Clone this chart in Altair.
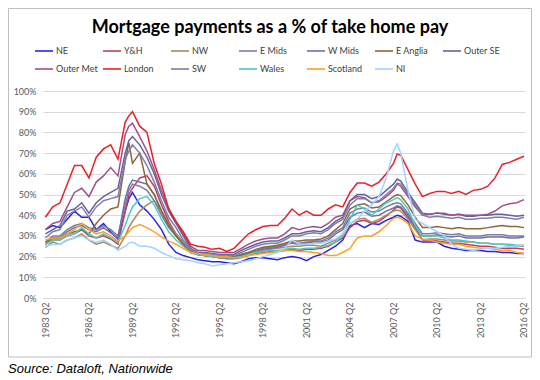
import altair as alt
import pandas as pd

TITLE = "Mortgage payments as a % of take home pay"
SOURCE = "Source: Dataloft, Nationwide"

# time points (decimal year: .0=Q1, .25=Q2, .5=Q3, .75=Q4)
TIMES = [1983.25, 1983.75, 1984.25, 1984.75, 1985.25, 1985.75, 1986.25, 1986.75, 1987.25, 1987.75, 1988.25, 1988.75,
         1989.0, 1989.25, 1989.75, 1990.25, 1990.75, 1991.25, 1991.75, 1992.25, 1992.75, 1993.25, 1993.75,
         1994.25, 1994.75, 1995.25, 1995.75, 1996.25, 1996.75, 1997.25, 1997.75, 1998.25, 1998.75, 1999.25, 1999.75,
         2000.25, 2000.75, 2001.25, 2001.75, 2002.25, 2002.75, 2003.25, 2003.75, 2004.25, 2004.75, 2005.25, 2005.75,
         2006.25, 2006.75, 2007.25, 2007.5, 2007.75, 2008.25, 2008.75, 2009.25, 2009.75,
         2010.25, 2010.75, 2011.25, 2011.75, 2012.25, 2012.75, 2013.25, 2013.75, 2014.25, 2014.75, 2015.25, 2015.75, 2016.25]

TICK_YEARS = [1983.25, 1986.25, 1989.25, 1992.25, 1995.25, 1998.25, 2001.25, 2004.25, 2007.25, 2010.25, 2013.25, 2016.25]
Y_TICKS = [0, 10, 20, 30, 40, 50, 60, 70, 80, 90, 100]

NE = [33, 35, 34, 38, 42, 39, 39, 33, 36, 32, 28.5, 42,
      48, 51, 45, 42, 38, 33, 26, 22, 20.5, 19.5, 18.5,
      18, 17.5, 17.5, 17, 16.5, 17.5, 19, 19.5, 19.5, 19, 18.5, 19.5,
      20, 19.5, 18, 20, 21, 23, 25, 28, 35, 36, 34, 36,
      35.5, 37.5, 39, 40, 39.5, 37, 28, 27, 27,
      27, 25, 24, 23.5, 23, 23, 23, 22.5, 22.5, 22, 22, 21.5, 21.5]
YH = [26, 28, 28, 30, 31, 33, 30, 29, 30, 28.5, 26, 42,
      50, 53, 58, 59, 54, 45, 37, 31, 26.5, 22, 21,
      20.5, 20, 19.5, 19, 19, 19.5, 20.5, 21.5, 22, 22.5, 22.5, 23,
      23.5, 23, 23.5, 23.5, 24, 25, 27, 29, 34, 37, 37.5, 36,
      37, 39.5, 42.5, 44, 43.5, 39, 34, 28, 28,
      27.5, 27, 26.5, 26.5, 26, 25.5, 25, 25, 24.5, 24, 24, 24, 23.5]
NW = [24.5, 27, 26, 28, 29, 31, 28, 26, 27, 25.5, 24, 30,
      34, 37, 42, 45, 47, 42, 36, 31, 27, 23, 21,
      20.5, 20, 19.5, 19.5, 19.5, 20, 21, 22, 23, 23.5, 24, 24.5,
      25, 25, 25.5, 25.5, 25, 26.5, 28, 31, 36, 38, 38.5, 36.5,
      38, 40, 42, 42.5, 42, 38, 33, 28, 28.5,
      28.5, 28, 27.5, 27.5, 27, 27, 26.5, 26.5, 26, 26, 25.5, 25, 25]
E_MIDS = [27, 30, 30, 33, 35, 36, 34, 33, 35, 33, 30, 45,
          52, 55, 54, 52, 47, 40, 34, 30, 26, 22.5, 21.5,
          21, 20.5, 20, 20, 20, 21, 22, 23, 24, 24.5, 25, 26,
          27, 26.5, 27, 27.5, 27.5, 29, 32, 34, 41, 43, 43.5, 41.5,
          42, 44, 45.5, 46, 45.5, 41, 36, 31, 31,
          31.5, 31, 30.5, 31, 30, 30, 30, 30.5, 30.5, 30.5, 30, 30, 30]
W_MIDS = [26, 29, 29, 32, 34, 35, 33, 32, 34, 31.5, 29, 48,
          54, 57, 56, 55, 50, 42, 35, 30, 26, 22, 21,
          20.5, 20, 19.5, 19.5, 19.5, 20.5, 21.5, 22.5, 23.5, 24, 24.5, 25.5,
          26.5, 26, 26.5, 27, 27, 28, 31, 33, 39, 41, 41.5, 39.5,
          40, 42, 43.5, 44.5, 44, 40, 35, 30, 30,
          30.5, 30, 29.5, 30, 29, 29, 29, 29.5, 29.5, 29.5, 29, 29, 29.5]
E_ANGLIA = [27, 29, 29, 31, 32, 33, 31, 36, 40, 43, 44, 66,
            75, 65, 70, 55, 50, 42, 35, 30, 26, 22, 21,
            20.5, 20.5, 20, 20, 20, 21, 22, 23.5, 24.5, 25, 25.5, 26.5,
            27.5, 27.5, 28, 28, 28.5, 30, 33, 36, 43, 45, 45.5, 43.5,
            44, 46.5, 49, 50, 49.5, 45, 39, 34, 34,
            34.5, 34, 33.5, 34, 33.5, 33.5, 33.5, 34, 34.5, 35, 34.5, 34.5, 34]
OUTER_SE = [31, 33, 35, 42, 43, 46, 41, 46, 49, 51, 53, 70,
            76, 78, 74, 68, 60, 50, 42, 36, 30, 24, 22,
            22, 21.5, 21, 21, 21, 23, 24.5, 26, 27, 27.5, 27.5, 29,
            31, 31, 32, 32.5, 32, 34, 37, 39, 47, 50, 50, 48,
            49, 52, 55, 57.5, 56.5, 51, 46, 41, 40.5,
            41, 40.5, 40, 40.5, 39.5, 39.5, 40, 40, 40.5, 40.5, 40, 39.5, 40]
OUTER_MET = [33, 36, 37, 44, 51, 53, 49, 56, 59, 63, 59, 79,
             83, 84.5, 78, 71, 62, 52, 43, 37, 31, 25, 23,
             23, 22.5, 22, 22, 22, 24, 26, 27.5, 28.5, 29, 29, 31,
             34, 33, 34, 34.5, 34, 36, 39, 40, 47, 49, 48.5, 46,
             46.5, 49, 52, 55, 54, 49, 44, 40, 40.5,
             41, 41, 40, 40.5, 40, 40, 40, 40.5, 42, 44.5, 45.5, 46, 47.5]
LONDON = [39, 44, 46, 55, 64, 64, 58, 68, 72, 74, 67, 85,
          88, 90, 83, 80, 65, 55, 43, 37, 32, 26, 25,
          24.5, 23.5, 24, 22.5, 24, 27.5, 31, 33, 34.5, 35, 35, 38.5,
          43, 40, 42, 40, 40, 43, 45, 44, 51, 55.5, 55.5, 54,
          56, 60, 65, 69.5, 69, 62, 55, 49, 50.5,
          51.5, 51.5, 50.5, 51.5, 50, 52, 52.5, 54, 58, 64.5, 65.5, 67, 68.5]
SW = [29, 32, 33, 40, 42, 44, 39, 44, 47, 48, 49, 67,
      71, 74, 70, 64, 56, 47, 39, 34, 28, 23.5, 21.5,
      21.5, 21, 20.5, 20.5, 20.5, 22, 23.5, 25, 26, 26.5, 26.5, 28,
      30, 30, 31, 31.5, 31, 33, 36, 38, 45, 48, 48, 46,
      47, 50, 53, 55.5, 55, 50, 45, 40, 39,
      39.5, 39, 38.5, 39, 38, 38, 38.5, 38.5, 39, 39, 38.5, 38, 39]
WALES = [26, 28, 28, 30, 31, 34, 31, 29, 31, 29, 27, 35,
         40, 44, 48, 49, 45, 38, 32, 28, 25, 22, 21,
         20.5, 20, 19.5, 19.5, 19.5, 20, 21, 22, 22.5, 23, 23, 23.5,
         24, 23.5, 24, 24, 24.5, 25.5, 27, 30, 38, 45, 43, 40,
         43, 46, 47.5, 48.5, 47.5, 43, 35, 30, 30,
         30, 29, 28, 28, 27.5, 27, 26.5, 26.5, 26, 26, 26, 25.5, 25.5]
SCOTLAND = [28, 29, 29, 31, 33, 36, 33, 31, 32, 30, 27.5, 30,
            32, 34, 35.5, 34, 32, 29.5, 27.5, 26, 24, 22, 21.5,
            21, 20.5, 20, 20, 19.5, 19.5, 20.5, 21, 21.5, 22, 22.5, 23,
            23, 22.5, 22.5, 22, 21.5, 20.5, 20.5, 22, 24, 29, 30, 30,
            32, 35, 38.5, 39, 38.5, 36, 30, 28.5, 28,
            27, 26.5, 26, 26, 25, 24.5, 24, 24, 23.5, 23, 23, 22, 21.5]
NI = [25, 26, 26, 28, 29, 30, 28, 27, 28, 26, 23, 25,
      26.5, 27, 25, 25, 24, 22, 20.5, 19, 18.5, 18, 17,
      16.5, 15.5, 16, 16.5, 17, 17.5, 18, 19, 20, 21, 22, 24,
      28, 26, 26, 26.5, 26.5, 27.5, 28.5, 31, 36, 38, 42, 45,
      49, 58, 71, 74.5, 70, 52, 38, 36, 34,
      32, 30, 26, 24, 23.5, 23, 23.5, 24, 24, 24.5, 25, 25, 25.5]

SERIES = ["NE", "Y&H", "NW", "E Mids", "W Mids", "E Anglia", "Outer SE",
          "Outer Met", "London", "SW", "Wales", "Scotland", "NI"]
VALUES = [NE, YH, NW, E_MIDS, W_MIDS, E_ANGLIA, OUTER_SE,
          OUTER_MET, LONDON, SW, WALES, SCOTLAND, NI]
COLORS = ["#2323F0", "#C0405E", "#A88A5C", "#7C7CA6", "#7070A8", "#8C6838", "#64649A",
          "#A0508A", "#E8202A", "#7E7EAE", "#4CCAC4", "#FFA024", "#A6D2FF"]

for v in VALUES:
    assert len(v) == len(TIMES), len(v)

rows = []
for name, vals in zip(SERIES, VALUES):
    for t, v in zip(TIMES, vals):
        rows.append({"region": name, "t": t, "v": v})
df = pd.DataFrame(rows)

W, H = 482, 207

lines = alt.Chart(df).mark_line(strokeWidth=1.5).encode(
    x=alt.X("t:Q", scale=alt.Scale(domain=[1983.08, 2016.32], nice=False, zero=False),
            axis=alt.Axis(values=TICK_YEARS, labelExpr="floor(datum.value) + ' Q2'", title=None,
                          grid=False, ticks=False, domain=False, labelAngle=-90, labelAlign="right",
                          labelBaseline="middle", labelPadding=4, labelFont="Lato", labelFontSize=9,
                          labelColor="#595959")),
    y=alt.Y("v:Q", scale=alt.Scale(domain=[0, 100], nice=False),
            axis=alt.Axis(values=Y_TICKS, labelExpr="datum.value + '%'", title=None, grid=True,
                          gridColor="#D9D9D9", gridWidth=1.2, ticks=False, domain=False, labelPadding=7,
                          labelFont="Lato", labelFontSize=9, labelColor="#595959")),
    color=alt.Color("region:N", sort=SERIES, scale=alt.Scale(domain=SERIES, range=COLORS),
                    legend=alt.Legend(title=None, orient="none", legendX=-9, legendY=-50,
                                      direction="horizontal", columns=7, symbolType="stroke",
                                      symbolSize=324, symbolStrokeWidth=1.6, labelFont="Lato",
                                      labelFontSize=9, labelColor="#404040", labelOffset=2,
                                      columnPadding=1, rowPadding=3, gridAlign="all", padding=0,
                                      labelLimit=90)),
    order=alt.Order("t:Q"),
)

one = pd.DataFrame({"a": [0]})
frame = alt.Chart(one).mark_rect(fillOpacity=0, stroke="#BFBFBF", strokeWidth=1).encode(
    x=alt.value(-34.5), x2=alt.value(488.5), y=alt.value(-82.5), y2=alt.value(266))
title = alt.Chart(pd.DataFrame({"txt": [TITLE]})).mark_text(
    font="Lato", fontWeight="bold", fontSize=18, align="center", baseline="alphabetic", color="#000000"
).encode(text="txt:N", x=alt.value(227), y=alt.value(-58))
source = alt.Chart(pd.DataFrame({"txt": [SOURCE]})).mark_text(
    font="Liberation Sans", fontStyle="italic", fontSize=13, align="left", baseline="alphabetic",
    color="#000000"
).encode(text="txt:N", x=alt.value(-35), y=alt.value(282))

chart = alt.layer(frame, lines, title, source).properties(
    width=W, height=H,
    autosize=alt.AutoSizeParams(type="none"),
    padding={"left": 35, "top": 83, "right": 7, "bottom": 77},
).configure_view(stroke=None)

chart.save("out.html", embed_options={"renderer": "svg", "actions": False})
